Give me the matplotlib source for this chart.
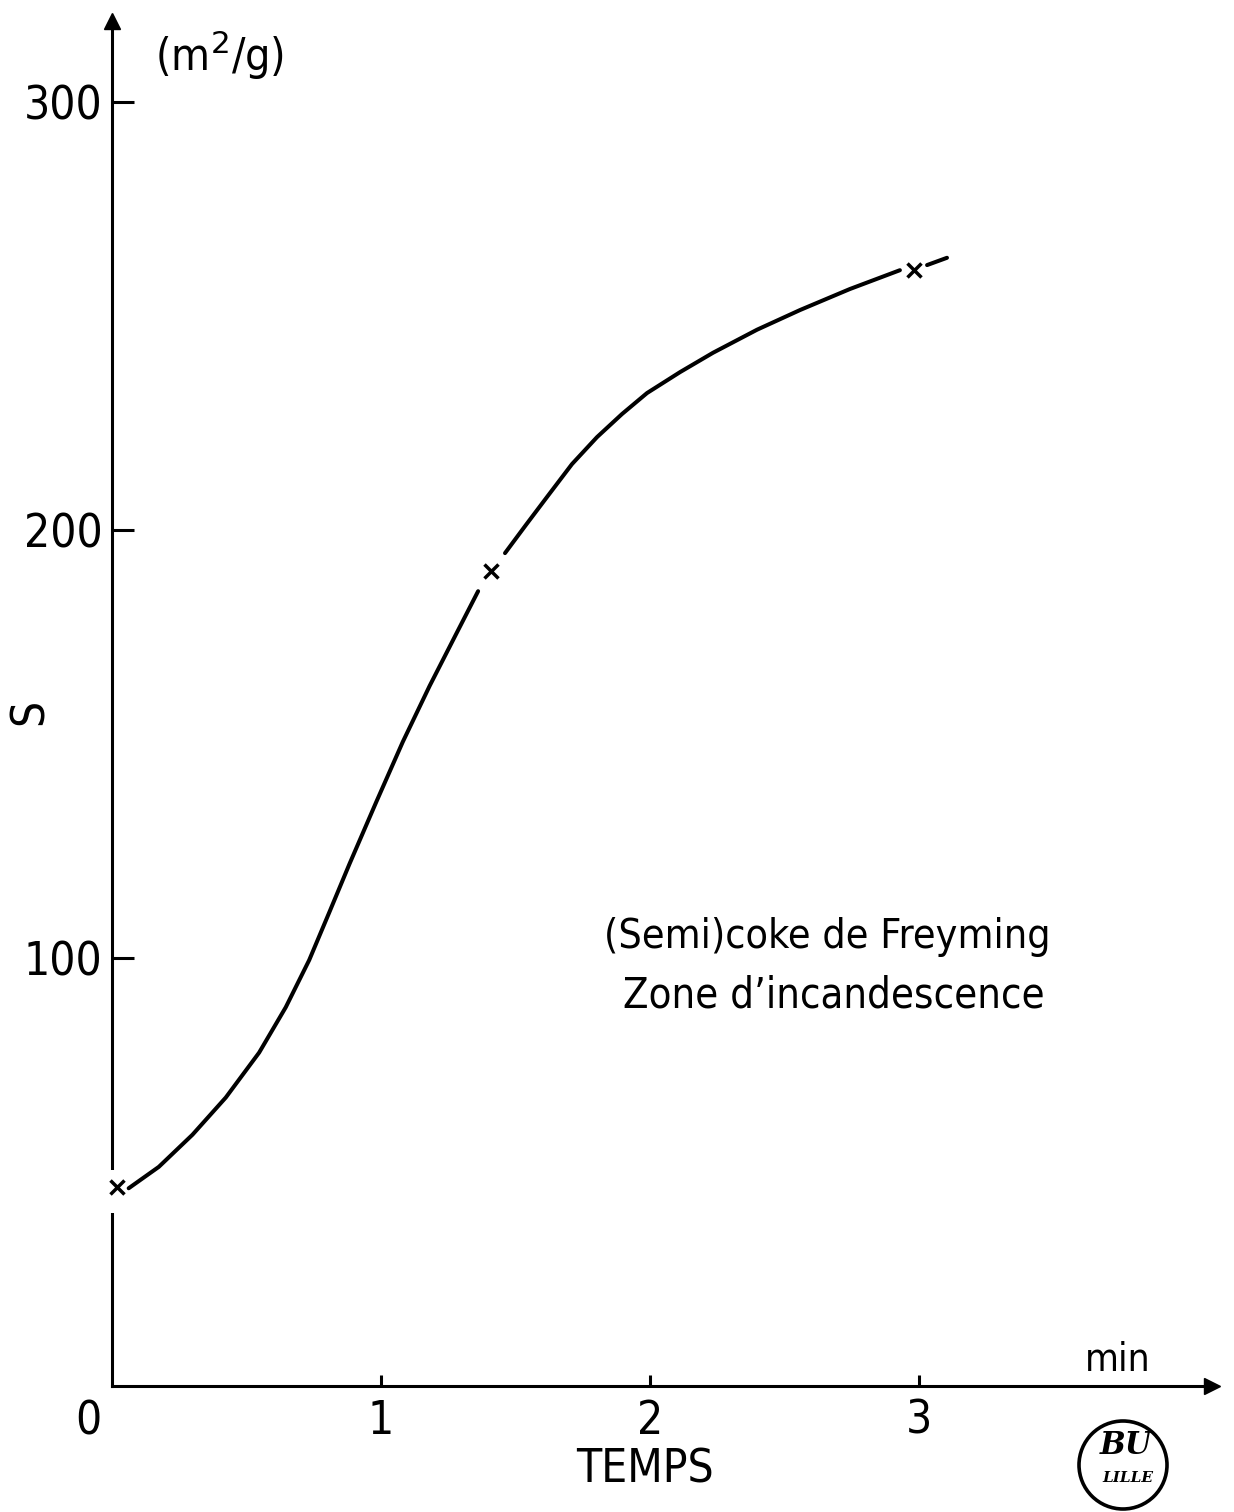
import matplotlib
matplotlib.use("Agg")
import matplotlib.pyplot as plt
from matplotlib.patches import Circle, Rectangle

# Measured points (time in min, specific surface S in m2/g)
times = [0.02, 1.41, 2.98]
surface = [46.5, 190.4, 260.7]

# Hand-drawn trend curve, drawn in three pieces broken at the markers
curve_a_t = [0.062, 0.174, 0.299, 0.423, 0.547, 0.646, 0.733, 0.808, 0.883,
             0.982, 1.081, 1.181, 1.281, 1.361]
curve_a_s = [46.2, 51.2, 58.7, 67.4, 77.9, 88.5, 99.5, 110.7, 122.0,
             136.4, 150.5, 163.6, 175.9, 185.7]
curve_b_t = [1.461, 1.539, 1.617, 1.710, 1.803, 1.896, 1.989, 2.112, 2.234,
             2.398, 2.558, 2.743, 2.929]
curve_b_s = [194.6, 201.2, 207.7, 215.4, 221.7, 227.1, 232.0, 236.9, 241.4,
             246.8, 251.4, 256.3, 260.7]
curve_c_t = [3.03, 3.104]
curve_c_s = [261.9, 263.6]

xticks = [1, 2, 3]
xtick_labels = ["1", "2", "3"]
yticks = [100, 200, 300]
ytick_labels = ["100", "200", "300"]

FONT = dict(family="DejaVu Sans", stretch="condensed")

W, H = 1234, 1512
fig = plt.figure(figsize=(W / 100, H / 100), dpi=100)
fig.patch.set_facecolor("white")

x0_px, y0_px = 112, 1386
px_per_min = 269
px_per_unit = 4.28
xmax = 4.09
ymax = 318.9
ax = fig.add_axes([x0_px / W, (H - y0_px) / H,
                   xmax * px_per_min / W, ymax * px_per_unit / H])
ax.set_xlim(0, xmax)
ax.set_ylim(0, ymax)

for side in ("top", "right"):
    ax.spines[side].set_visible(False)
for side in ("left", "bottom"):
    ax.spines[side].set_linewidth(2.2)
    ax.spines[side].set_color("black")

ax.set_xticks(xticks)
ax.set_xticklabels(xtick_labels, fontsize=33, **FONT)
ax.set_yticks(yticks)
ax.set_yticklabels(ytick_labels, fontsize=33, **FONT)
ax.tick_params(axis="y", direction="in", length=16, width=2.2, pad=7)
ax.tick_params(axis="x", direction="in", length=8, width=2.2, pad=9)

# axis arrowheads
ax.plot([0], [ymax], marker="^", ms=11, color="black", clip_on=False, zorder=5)
ax.plot([xmax], [0], marker=">", ms=11, color="black", clip_on=False, zorder=5)

# break in the vertical axis around the first measurement
ax.add_patch(Rectangle((-0.03, 40.4), 0.06, 10.1, facecolor="white",
                       edgecolor="none", clip_on=False, zorder=4))

for t, s in ((curve_a_t, curve_a_s), (curve_b_t, curve_b_s), (curve_c_t, curve_c_s)):
    ax.plot(t, s, color="black", lw=2.9, solid_capstyle="round",
            solid_joinstyle="round", clip_on=False, zorder=3)

ax.plot(times, surface, linestyle="none", marker="x", ms=10, mew=2.5,
        color="black", clip_on=False, zorder=6)

# axis titles and annotations
fig.text(155 / W, 1 - 55 / H, "(m$^{2}$/g)", fontsize=32, ha="left", va="center", **FONT)
fig.text(30 / W, 1 - 712 / H, "S", fontsize=33, rotation=90, ha="center", va="center", **FONT)
fig.text(645 / W, 1 - 1470 / H, "TEMPS", fontsize=33, ha="center", va="center", **FONT)
fig.text(1118 / W, 1 - 1360 / H, "min", fontsize=28, ha="center", va="center", **FONT)
fig.text(88 / W, 1 - 1422 / H, "0", fontsize=33, ha="center", va="center", **FONT)

fig.text(827 / W, 1 - 948 / H, "(Semi)coke de Freyming", fontsize=29.5,
         ha="center", va="baseline", **FONT)
fig.text(834 / W, 1 - 1007 / H, "Zone d\u2019incandescence", fontsize=30,
         ha="center", va="baseline", **FONT)

# library stamp
stamp = Circle((1123 / 100, (H - 1465) / 100), 0.44, transform=fig.dpi_scale_trans,
               facecolor="none", edgecolor="black", lw=2.6)
fig.add_artist(stamp)
fig.text(1126 / W, 1 - 1445 / H, "BU", fontsize=22, family="DejaVu Serif",
         weight="bold", style="italic", ha="center", va="center")
fig.text(1128 / W, 1 - 1478 / H, "LILLE", fontsize=11, family="DejaVu Serif",
         weight="bold", style="italic", ha="center", va="center")

fig.savefig("out.png", dpi=100, facecolor="white")
